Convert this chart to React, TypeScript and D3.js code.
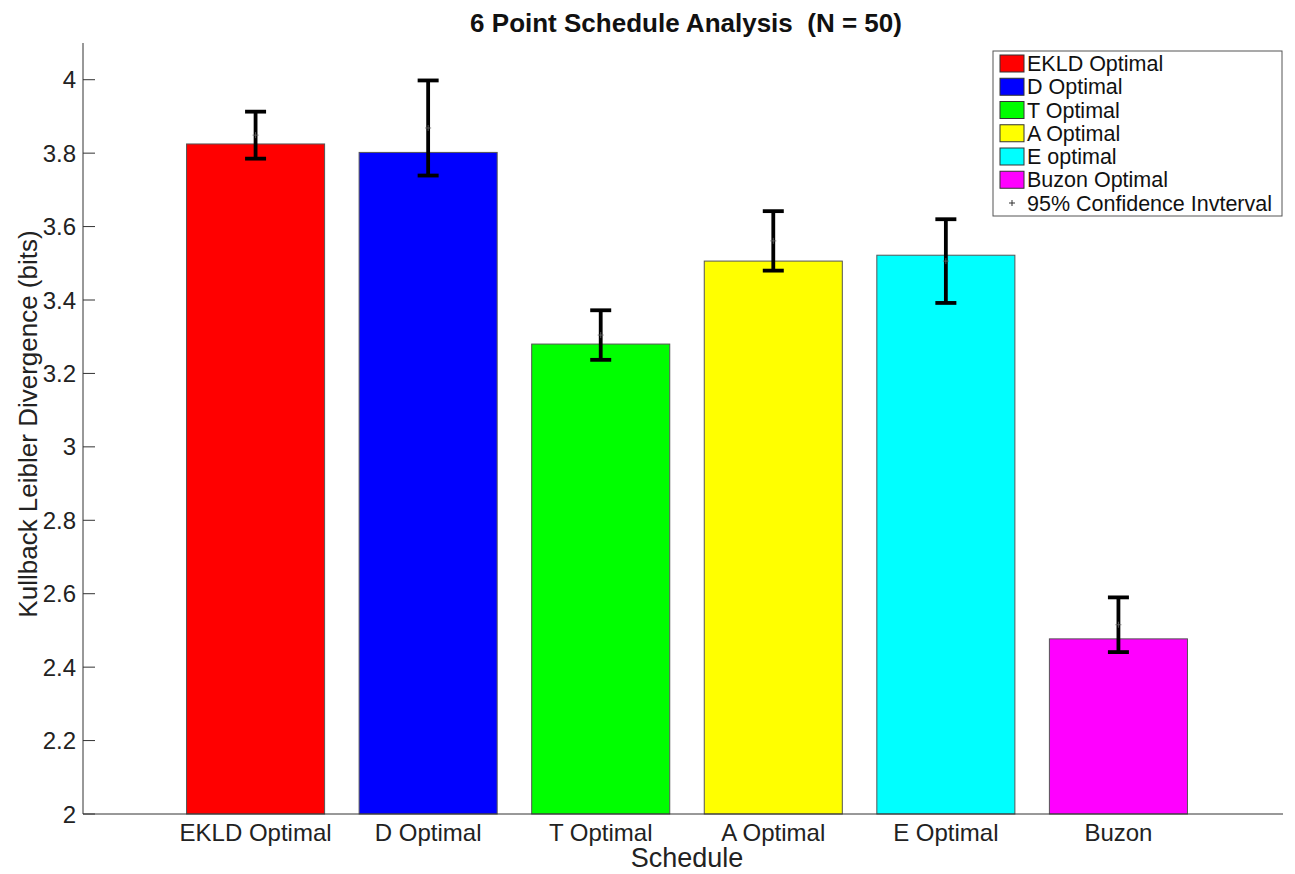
import React, { useEffect, useRef } from 'react';
import * as d3 from 'd3';

const categories = ['EKLD Optimal', 'D Optimal', 'T Optimal', 'A Optimal', 'E Optimal', 'Buzon'];
const legendLabels = ['EKLD Optimal', 'D Optimal', 'T Optimal', 'A Optimal', 'E optimal', 'Buzon Optimal'];
const colors = ['#ff0000', '#0000ff', '#00ff00', '#ffff00', '#00ffff', '#ff00ff'];
const means = [3.825, 3.802, 3.28, 3.506, 3.522, 2.477];
const ciLow = [3.785, 3.739, 3.237, 3.48, 3.392, 2.441];
const ciHigh = [3.913, 3.998, 3.372, 3.642, 3.62, 2.59];
const yTicks = [2, 2.2, 2.4, 2.6, 2.8, 3, 3.2, 3.4, 3.6, 3.8, 4];

const App = () => {
  const svgRef = useRef<SVGSVGElement>(null);

  useEffect(() => {
    const svg = d3.select(svgRef.current);
    svg.selectAll('*').remove();
    const font = 'Liberation Sans, Arial, Helvetica, sans-serif';
    const left = 83;
    const right = 1291;
    const top = 43;
    const bottom = 814;

    const x = d3.scaleLinear().domain([0, 7]).range([left, right]);
    const y = d3.scaleLinear().domain([2, 4.1]).range([bottom, top]);
    const bw = (x(1) - x(0)) * 0.8;

    // bars
    svg.append('g')
      .selectAll('rect')
      .data(means)
      .join('rect')
      .attr('x', (d, i) => x(i + 1) - bw / 2)
      .attr('y', d => y(d))
      .attr('width', bw)
      .attr('height', d => y(2) - y(d))
      .attr('fill', (d, i) => colors[i])
      .attr('stroke', '#555')
      .attr('stroke-width', 1);

    // error bars
    const eb = svg.append('g').attr('stroke', '#000').attr('stroke-width', 3.8);
    categories.forEach((c, i) => {
      const cx = x(i + 1);
      eb.append('line').attr('x1', cx).attr('x2', cx).attr('y1', y(ciLow[i])).attr('y2', y(ciHigh[i]));
      eb.append('line').attr('x1', cx - 10.5).attr('x2', cx + 10.5).attr('y1', y(ciLow[i])).attr('y2', y(ciLow[i]));
      eb.append('line').attr('x1', cx - 10.5).attr('x2', cx + 10.5).attr('y1', y(ciHigh[i])).attr('y2', y(ciHigh[i]));
      const my = y((ciLow[i] + ciHigh[i]) / 2);
      svg.append('path')
        .attr('d', `M${cx - 3},${my}H${cx + 3}M${cx},${my - 3}V${my + 3}`)
        .attr('stroke', '#666')
        .attr('stroke-width', 0.8);
    });

    // axes lines
    svg.append('line').attr('x1', left).attr('x2', left).attr('y1', top).attr('y2', bottom)
      .attr('stroke', '#333').attr('stroke-width', 1);
    svg.append('line').attr('x1', left).attr('x2', 1283).attr('y1', bottom).attr('y2', bottom)
      .attr('stroke', '#333').attr('stroke-width', 1);

    // y ticks
    const yt = svg.append('g');
    yTicks.forEach(t => {
      yt.append('line').attr('x1', left).attr('x2', left + 12).attr('y1', y(t)).attr('y2', y(t))
        .attr('stroke', '#333').attr('stroke-width', 1);
      yt.append('text')
        .attr('x', left - 7)
        .attr('y', y(t))
        .attr('dy', '0.36em')
        .attr('text-anchor', 'end')
        .attr('font-family', font)
        .attr('font-size', 24)
        .attr('fill', '#222')
        .text(d3.format('~g')(t));
    });

    // x labels
    svg.append('g')
      .selectAll('text')
      .data(categories)
      .join('text')
      .attr('x', (d, i) => x(i + 1))
      .attr('y', 841)
      .attr('text-anchor', 'middle')
      .attr('font-family', font)
      .attr('font-size', 24)
      .attr('fill', '#222')
      .text(d => d);

    // titles
    svg.append('text')
      .attr('x', 686).attr('y', 32)
      .attr('text-anchor', 'middle')
      .attr('font-family', font)
      .attr('font-size', 26)
      .attr('font-weight', 'bold')
      .attr('fill', '#111')
      .style('white-space', 'pre')
      .text('6 Point Schedule Analysis  (N = 50)');

    svg.append('text')
      .attr('x', 687).attr('y', 867)
      .attr('text-anchor', 'middle')
      .attr('font-family', font)
      .attr('font-size', 27)
      .attr('fill', '#222')
      .text('Schedule');

    svg.append('text')
      .attr('transform', `translate(37, 424) rotate(-90)`)
      .attr('text-anchor', 'middle')
      .attr('font-family', font)
      .attr('font-size', 26)
      .attr('fill', '#222')
      .text('Kullback Leibler Divergence (bits)');

    // legend
    const lg = svg.append('g').attr('transform', 'translate(993, 51)');
    lg.append('rect').attr('width', 289).attr('height', 165)
      .attr('fill', '#fff').attr('stroke', '#555').attr('stroke-width', 1);
    const rowH = 23.25;
    legendLabels.forEach((l, i) => {
      const yy = 12.5 + i * rowH;
      lg.append('rect').attr('x', 7).attr('y', yy - 8.5).attr('width', 24).attr('height', 17)
        .attr('fill', colors[i]).attr('stroke', '#333').attr('stroke-width', 1);
      lg.append('text').attr('x', 34).attr('y', yy).attr('dy', '0.36em')
        .attr('font-family', font).attr('font-size', 21.5).attr('fill', '#111').text(l);
    });
    const yl = 12.5 + 6 * rowH;
    lg.append('path').attr('d', `M16,${yl}H22M19,${yl - 3}V${yl + 3}`)
      .attr('stroke', '#333').attr('stroke-width', 1);
    lg.append('text').attr('x', 34).attr('y', yl).attr('dy', '0.36em')
      .attr('font-family', font).attr('font-size', 21.5).attr('fill', '#111').text('95% Confidence Invterval');
  }, []);

  return <svg ref={svgRef} width={1295} height={874} style={{ position: 'absolute', left: 0, top: 0 }}></svg>;
};

export default App;
